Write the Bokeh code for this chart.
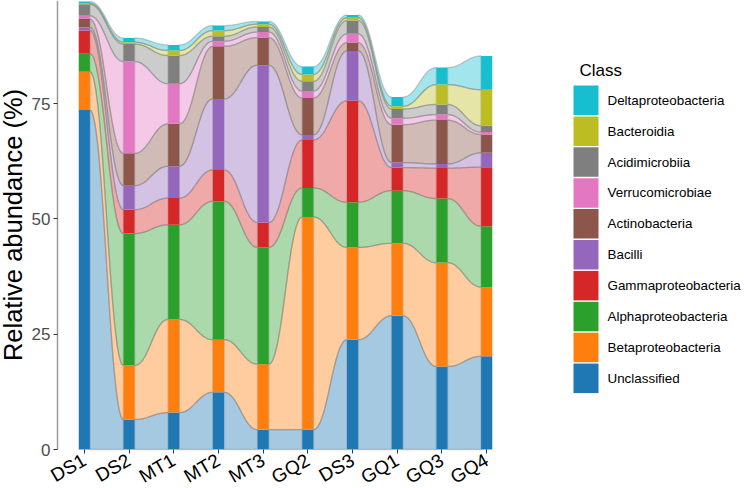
import math
import numpy as np
from bokeh.plotting import figure
from bokeh.models import Range1d, FixedTicker, ColumnDataSource
from bokeh.core.properties import value
from bokeh.embed import file_html
from bokeh.resources import INLINE

# ---------------- data ----------------
samples = ["DS1", "DS2", "MT1", "MT2", "MT3", "GQ2", "DS3", "GQ1", "GQ3", "GQ4"]

# stacking order: bottom -> top
classes = ["Unclassified", "Betaproteobacteria", "Alphaproteobacteria",
           "Gammaproteobacteria", "Bacilli", "Actinobacteria",
           "Verrucomicrobiae", "Acidimicrobiia", "Bacteroidia",
           "Deltaproteobacteria"]
colors = ["#1F77B4", "#FF7F0E", "#2CA02C", "#D62728", "#9467BD",
          "#8C564B", "#E377C2", "#7F7F7F", "#BCBD22", "#17BECF"]

unclassified        = [73.6, 6.5, 8.0, 12.4, 4.3, 4.3, 23.8, 29.0, 18.0, 20.2]
betaproteobacteria  = [8.3, 11.7, 20.2, 11.4, 14.2, 46.1, 20.0, 15.7, 22.5, 15.0]
alphaproteobacteria = [3.9, 28.6, 20.5, 30.0, 25.3, 6.3, 9.8, 11.4, 13.9, 13.2]
gammaproteobacteria = [5.0, 5.2, 5.8, 6.8, 5.4, 10.4, 22.0, 5.0, 6.6, 12.8]
bacilli             = [0.7, 5.2, 6.9, 15.4, 34.1, 1.1, 10.8, 1.1, 0.9, 3.1]
actinobacteria      = [1.8, 7.0, 9.2, 11.4, 6.0, 8.0, 1.8, 8.2, 9.5, 4.0]
verrucomicrobiae    = [0.7, 19.9, 8.7, 1.1, 1.2, 1.5, 1.9, 1.4, 1.2, 0.5]
acidimicrobiia      = [2.5, 3.8, 6.1, 1.1, 1.1, 2.1, 2.9, 2.0, 2.2, 1.4]
bacteroidia         = [0.2, 0.4, 1.1, 1.2, 0.6, 1.5, 0.6, 0.6, 4.3, 7.8]
deltaproteobacteria = [0.4, 0.9, 1.2, 1.1, 0.6, 1.7, 0.6, 2.0, 3.7, 7.3]

y_ticks = [0, 25, 50, 75]

values = [unclassified, betaproteobacteria, alphaproteobacteria,
          gammaproteobacteria, bacilli, actinobacteria, verrucomicrobiae,
          acidimicrobiia, bacteroidia, deltaproteobacteria]

FONT = "Liberation Sans"

# ---------------- layout constants (pixels) ----------------
W, H = 744, 488
LEFT = 57            # pixel column of the y axis line
BASE = 449           # pixel row of y = 0
PANEL_W = 456.0      # width of the bar panel
n = len(samples)
X0 = 0.4
ppx = PANEL_W / (n - 1 + 1.2)
Y_MAX = 97.33
ppy = BASE / Y_MAX

def px_to_x(px):
    return X0 + (np.asarray(px, dtype=float) - LEFT) / ppx

def py_to_y(py):
    return (BASE - np.asarray(py, dtype=float)) / ppy

# ---------------- geometry from data ----------------
xpos = np.arange(1, n + 1)
bar_w = 0.25
vals = np.array(values, dtype=float)
tops = np.cumsum(vals, axis=0)
bottoms = tops - vals

p = figure(width=W, height=H,
           x_range=Range1d(float(px_to_x(0)), float(px_to_x(W))),
           y_range=Range1d(float(py_to_y(H)), Y_MAX),
           output_backend="svg", toolbar_location=None,
           min_border_left=0, min_border_right=0,
           min_border_top=0, min_border_bottom=0)
p.background_fill_color = "white"
p.border_fill_color = "white"
p.outline_line_color = None
p.xgrid.visible = False
p.ygrid.visible = False

# smooth flow curve (cubic bezier, flat ends)
u = np.linspace(0, 1, 40)
a = 0.42
bx = 3 * (1 - u) ** 2 * u * a + 3 * (1 - u) * u ** 2 * (1 - a) + u ** 3
by = 3 * (1 - u) * u ** 2 + u ** 3

fxs, fys, fcol = [], [], []
for i in range(n - 1):
    x0 = xpos[i] + bar_w / 2
    x1 = xpos[i + 1] - bar_w / 2
    xc = x0 + (x1 - x0) * bx
    for k in range(len(classes)):
        tc = tops[k, i] + (tops[k, i + 1] - tops[k, i]) * by
        bc = bottoms[k, i] + (bottoms[k, i + 1] - bottoms[k, i]) * by
        fxs.append(list(np.concatenate([xc, xc[::-1]])))
        fys.append(list(np.concatenate([tc, bc[::-1]])))
        fcol.append(colors[k])

flow_src = ColumnDataSource(dict(xs=fxs, ys=fys, color=fcol))
p.patches(xs="xs", ys="ys", source=flow_src, fill_color="color",
          fill_alpha=0.4, line_color="#7a7a7a", line_alpha=0.38,
          line_width=1.3)

for k in range(len(classes)):
    src = ColumnDataSource(dict(x=xpos, bottom=bottoms[k], top=tops[k]))
    p.vbar(x="x", bottom="bottom", top="top", width=bar_w, source=src,
           fill_color=colors[k], line_color=None)

# ---------------- axes (pinned at x = 0.4 and y = 0) ----------------
p.xaxis.fixed_location = 0
p.xaxis.ticker = FixedTicker(ticks=[int(v) for v in xpos])
p.xaxis.major_label_overrides = {int(v): s for v, s in zip(xpos, samples)}
p.xaxis.major_label_orientation = math.pi / 6
p.xaxis.axis_line_color = None
p.xaxis.major_tick_line_color = "#333333"
p.xaxis.major_tick_out = 4
p.xaxis.major_tick_in = 0
p.xaxis.minor_tick_line_color = None
p.xaxis.major_label_text_font = FONT
p.xaxis.major_label_text_font_size = "19px"
p.xaxis.major_label_text_color = "black"
p.xaxis.major_label_standoff = 5

p.yaxis.fixed_location = X0
p.yaxis.ticker = FixedTicker(ticks=y_ticks)
p.yaxis.bounds = (0, Y_MAX)
p.yaxis.axis_label = "Relative abundance (%)"
p.yaxis.axis_label_text_font = FONT
p.yaxis.axis_label_text_font_style = "normal"
p.yaxis.axis_label_text_font_size = "25.5px"
p.yaxis.axis_label_text_color = "black"
p.yaxis.axis_label_standoff = 2
p.yaxis.axis_line_color = "#9a9a9a"
p.yaxis.axis_line_width = 1.5
p.yaxis.major_tick_line_color = "#333333"
p.yaxis.major_tick_out = 4
p.yaxis.major_tick_in = 0
p.yaxis.minor_tick_line_color = None
p.yaxis.major_label_text_font = FONT
p.yaxis.major_label_text_font_size = "17px"
p.yaxis.major_label_text_color = "#4D4D4D"
p.yaxis.major_label_standoff = 3

# ---------------- legend (drawn in the empty right part of the frame) -------
leg_classes = classes[::-1]
leg_colors = colors[::-1]
pitch = 30.9
idx = np.arange(len(leg_classes))
ktop_px = 85 + pitch * idx
kbot_px = ktop_px + pitch - 1.4
key_l_px, key_r_px = 573, 598
p.quad(left=px_to_x(key_l_px), right=px_to_x(key_r_px),
       top=py_to_y(ktop_px), bottom=py_to_y(kbot_px),
       fill_color=leg_colors, line_color=None)
p.text(x=px_to_x(np.full(len(idx), 607.0)), y=py_to_y((ktop_px + kbot_px) / 2),
       text=leg_classes, text_font=value(FONT), text_font_size="13.4px",
       text_baseline="middle", text_color="black")
p.text(x=px_to_x([579.0]), y=py_to_y([70.0]), text=["Class"],
       text_font=value(FONT), text_font_size="17px",
       text_baseline="alphabetic", text_color="black")

open("out.html", "w").write(file_html(p, INLINE))
